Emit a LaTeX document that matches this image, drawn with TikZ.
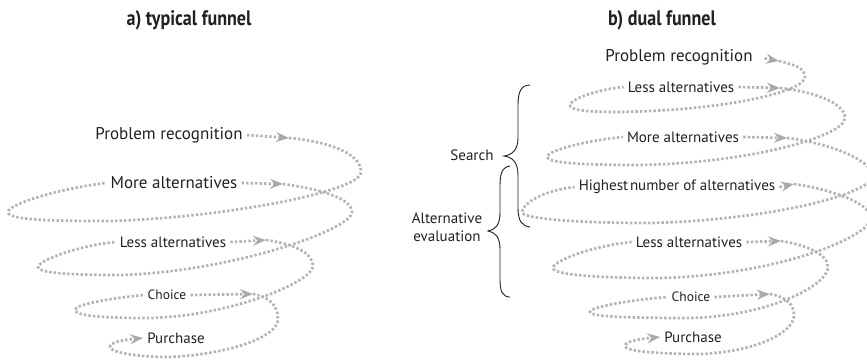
\documentclass[tikz,border=0pt]{standalone}
\usepackage{fontspec}
\setmainfont{PT Sans}
\newfontfamily\headfont[FakeStretch=0.86]{PT Sans}
\usetikzlibrary{arrows.meta}

\definecolor{dotgray}{HTML}{B3B3B7}
\definecolor{tipgray}{HTML}{A9A9AE}
\definecolor{ink}{HTML}{231F20}

\tikzset{
  dotline/.style={draw=dotgray, line width=2.7pt, dash pattern=on 2.4pt off 2.1pt},
  arrowed/.style={-{Stealth[length=13pt,width=10pt,inset=4.5pt,color=tipgray]}},
  bigtext/.style={font=\fontsize{17}{20}\selectfont, text=ink, inner sep=4pt},
  midtext/.style={font=\fontsize{15}{18}\selectfont, text=ink, inner sep=4pt},
  smalltext/.style={font=\fontsize{13.5}{16}\selectfont, text=ink, inner sep=4pt},
  headtext/.style={font=\headfont\bfseries\fontsize{21}{24}\selectfont, text=ink},
  bracetext/.style={font=\fontsize{15}{18}\selectfont, text=ink, align=center, inner sep=1pt},
  bracket/.style={draw=ink, line width=0.9pt}
}

\begin{document}
\begin{tikzpicture}[x=1pt,y=-1pt]
\useasboundingbox (0,0) rectangle (867,360);

% ---------- titles ----------
\node[headtext] (ta) at (189,20) {a) typical funnel};
\node[headtext] (tb) at (662,20) {b) dual funnel};

% ---------- a) typical funnel ----------
\node[bigtext]   (l1) at (169,135) {Problem recognition};
\node[bigtext]   (l2) at (174,183) {More alternatives};
\node[midtext]   (l3) at (173,242) {Less alternatives};
\node[smalltext] (l4) at (167,295) {Choice};
\node[midtext]   (l5) at (176,338) {Purchase};

\coordinate (la1) at (289,138);
\coordinate (la2) at (283,184);
\coordinate (la3) at (266,240);
\coordinate (la4) at (253,294);

\draw[dotline, arrowed] (l1.east) -- (la1);
\draw[dotline] (la1) .. controls +(35,3) and +(0,-20) .. (361,172)
  .. controls +(0,20) and +(110,-3) .. (110,221)
  .. controls +(-60,0) and +(0,8) .. (8,212)
  .. controls +(0,-8) and +(-45,5) .. (l2.west);

\draw[dotline, arrowed] (l2.east) -- (la2);
\draw[dotline] (la2) .. controls +(30,4) and +(0,-15) .. (352,212)
  .. controls +(0,18) and +(110,-3) .. (120,275)
  .. controls +(-50,0) and +(0,6) .. (38,267)
  .. controls +(0,-6) and +(-40,4) .. (l3.west);

\draw[dotline, arrowed] (l3.east) -- (la3);
\draw[dotline] (la3) .. controls +(28,4) and +(0,-13) .. (313,266)
  .. controls +(0,16) and +(80,-2) .. (150,318)
  .. controls +(-45,0) and +(0,6) .. (75,310)
  .. controls +(0,-6) and +(-30,3) .. (l4.west);

\draw[dotline, arrowed] (l4.east) -- (la4);
\draw[dotline, arrowed] (la4) .. controls +(18,3) and +(0,-12) .. (278,319)
  .. controls +(0,18) and +(60,-3) .. (170,357)
  .. controls +(-35,0) and +(0,5) .. (110,347)
  .. controls +(0,-5) and +(-20,2) .. (l5.west);

% ---------- b) dual funnel ----------
\node[bigtext]   (r1) at (679,57)  {Problem recognition};
\node[midtext]   (r2) at (681,87)  {Less alternatives};
\node[midtext]   (r3) at (683,137) {More alternatives};
\node[midtext]   (r4) at (677,187) {Highest\hspace{0.12em}number of alternatives};
\node[midtext]   (r5) at (689,242) {Less alternatives};
\node[smalltext] (r6) at (691,297) {Choice};
\node[midtext]   (r7) at (693,337) {Purchase};

\coordinate (ra1) at (779,61);
\coordinate (ra2) at (780,88);
\coordinate (ra3) at (787,138);
\coordinate (ra4) at (794,184);
\coordinate (ra5) at (781,241);
\coordinate (ra6) at (770,294);

\draw[dotline, arrowed, shorten <=8pt] (r1.east) -- (ra1);
\draw[dotline] (ra1) .. controls +(16,4) and +(0,-9) .. (805,77)
  .. controls +(0,14) and +(110,-2) .. (620,112)
  .. controls +(-35,0) and +(0,5) .. (570,105)
  .. controls +(0,-5) and +(-30,3) .. (r2.west);

\draw[dotline, arrowed] (r2.east) -- (ra2);
\draw[dotline] (ra2) .. controls +(30,3) and +(0,-16) .. (845,118)
  .. controls +(0,18) and +(110,-2) .. (640,165)
  .. controls +(-55,0) and +(0,6) .. (547,157)
  .. controls +(0,-6) and +(-40,4) .. (r3.west);

\draw[dotline, arrowed] (r3.east) -- (ra3);
\draw[dotline] (ra3) .. controls +(35,4) and +(0,-18) .. (872,176)
  .. controls +(0,18) and +(120,-3) .. (650,223)
  .. controls +(-70,0) and +(0,7) .. (522,212)
  .. controls +(0,-7) and +(-35,4) .. (r4.west);

\draw[dotline, arrowed] (r4.east) -- (ra4);
\draw[dotline] (ra4) .. controls +(35,5) and +(0,-15) .. (871,218)
  .. controls +(0,18) and +(120,-3) .. (660,278)
  .. controls +(-60,0) and +(0,7) .. (553,268)
  .. controls +(0,-7) and +(-40,4) .. (r5.west);

\draw[dotline, arrowed] (r5.east) -- (ra5);
\draw[dotline] (ra5) .. controls +(25,4) and +(0,-13) .. (828,267)
  .. controls +(0,18) and +(80,-2) .. (690,318)
  .. controls +(-55,0) and +(0,5) .. (590,312)
  .. controls +(0,-5) and +(-38,3) .. (r6.west);

\draw[dotline, arrowed] (r6.east) -- (ra6);
\draw[dotline, arrowed] (ra6) .. controls +(17,3) and +(0,-10) .. (794,315)
  .. controls +(0,18) and +(55,-2) .. (700,354)
  .. controls +(-45,0) and +(0,5) .. (625,346)
  .. controls +(0,-5) and +(-20,2) .. (r7.west);

% ---------- braces ----------
\node[bracetext] (search) at (472,155) {Search};
\node[bracetext] (altev)  at (447,227) {Alternative\\evaluation};

\draw[bracket] (530,85) .. controls (521,85) and (518,92) .. (518,105)
  -- (518,138) .. controls (518,150) and (512,155) .. (504,156)
  .. controls (512,157) and (518,162) .. (518,175)
  -- (518,208) .. controls (518,221) and (522,226) .. (530,227);

\draw[bracket] (510,166) .. controls (502,167) and (500,174) .. (500,186)
  -- (500,213) .. controls (500,225) and (495,230) .. (488,231)
  .. controls (495,232) and (500,237) .. (500,249)
  -- (500,280) .. controls (500,292) and (503,297) .. (510,297);
\end{tikzpicture}
\end{document}
